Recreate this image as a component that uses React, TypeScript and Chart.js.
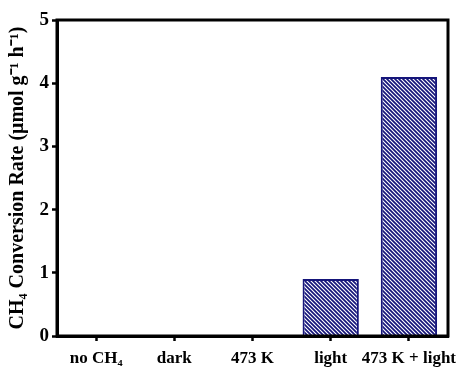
import React, { useEffect, useRef } from "react";
import { Chart, registerables } from "chart.js";

Chart.register(...registerables);

const categories = ["no CH₄", "dark", "473 K", "light", "473 K + light"];
const rates = [0, 0, 0, 0.9, 4.1];
const yTicks = [0, 1, 2, 3, 4, 5];
const yTitle = "CH₄ Conversion Rate (μmol g⁻¹ h⁻¹)";

const NAVY = "#15157a";

function makeHatch(): CanvasPattern | string {
  const s = 4;
  const c = document.createElement("canvas");
  c.width = s;
  c.height = s;
  const ctx = c.getContext("2d");
  if (!ctx) return NAVY;
  ctx.fillStyle = "#ffffff";
  ctx.fillRect(0, 0, s, s);
  ctx.strokeStyle = NAVY;
  ctx.lineWidth = 1.7;
  ctx.beginPath();
  ctx.moveTo(-1, -1);
  ctx.lineTo(s + 1, s + 1);
  ctx.moveTo(-1, s - 1);
  ctx.lineTo(1, s + 1);
  ctx.moveTo(s - 1, -1);
  ctx.lineTo(s + 1, 1);
  ctx.stroke();
  const p = ctx.createPattern(c, "repeat");
  return p || NAVY;
}

const framePlugin = {
  id: "frame",
  afterDraw(chart: any) {
    const { ctx, chartArea } = chart;
    ctx.save();
    ctx.strokeStyle = "#000";
    ctx.lineWidth = 3;
    ctx.strokeRect(chartArea.left, chartArea.top, chartArea.right - chartArea.left, chartArea.bottom - chartArea.top);
    ctx.restore();
  },
};

export default function App() {
  const ref = useRef<HTMLCanvasElement>(null);
  useEffect(() => {
    document.body.style.margin = "0";
    if (!ref.current) return;
    const chart = new Chart(ref.current, {
      type: "bar",
      data: {
        labels: categories,
        datasets: [
          {
            data: rates,
            backgroundColor: makeHatch() as any,
            borderColor: NAVY,
            borderWidth: 2,
            categoryPercentage: 1,
            barPercentage: 0.72,
          },
        ],
      },
      options: {
        animation: false,
        responsive: false,
        maintainAspectRatio: false,
        layout: { padding: { left: 0, top: 20, right: 10, bottom: 0 } },
        plugins: { legend: { display: false }, tooltip: { enabled: false } },
        scales: {
          x: {
            grid: { display: true, drawOnChartArea: false, offset: false, tickLength: 5, tickColor: "#000", tickWidth: 2.5 },
            border: { display: true, color: "#000", width: 3 },
            ticks: {
              color: "#000",
              padding: 7,
              maxRotation: 0,
              autoSkip: false,
              font: { family: "'Liberation Serif', serif", size: 17, weight: "bold" },
            },
            afterFit: (s: any) => {
              s.height = 33;
              s.paddingLeft = 0;
              s.paddingRight = 0;
            },
          },
          y: {
            min: 0,
            max: 5,
            afterBuildTicks: (s: any) => {
              s.ticks = yTicks.map((v) => ({ value: v }));
            },
            grid: { display: true, drawOnChartArea: false, tickLength: 5, tickColor: "#000", tickWidth: 2.5 },
            border: { display: true, color: "#000", width: 3 },
            ticks: {
              color: "#000",
              padding: 3,
              font: { family: "'Liberation Serif', serif", size: 19, weight: "bold" },
            },
            title: {
              display: true,
              text: yTitle,
              color: "#000",
              padding: { top: 6, bottom: 0 },
              font: { family: "'Liberation Serif', serif", size: 20, weight: "bold" },
            },
            afterFit: (s: any) => {
              s.width = 57;
              s.paddingTop = 0;
              s.paddingBottom = 0;
            },
          },
        },
      },
      plugins: [framePlugin],
    });
    return () => chart.destroy();
  }, []);
  return (
    <div style={{ width: 458, height: 369, background: "#fff" }}>
      <canvas ref={ref} width={458} height={369} style={{ display: "block" }} />
    </div>
  );
}
